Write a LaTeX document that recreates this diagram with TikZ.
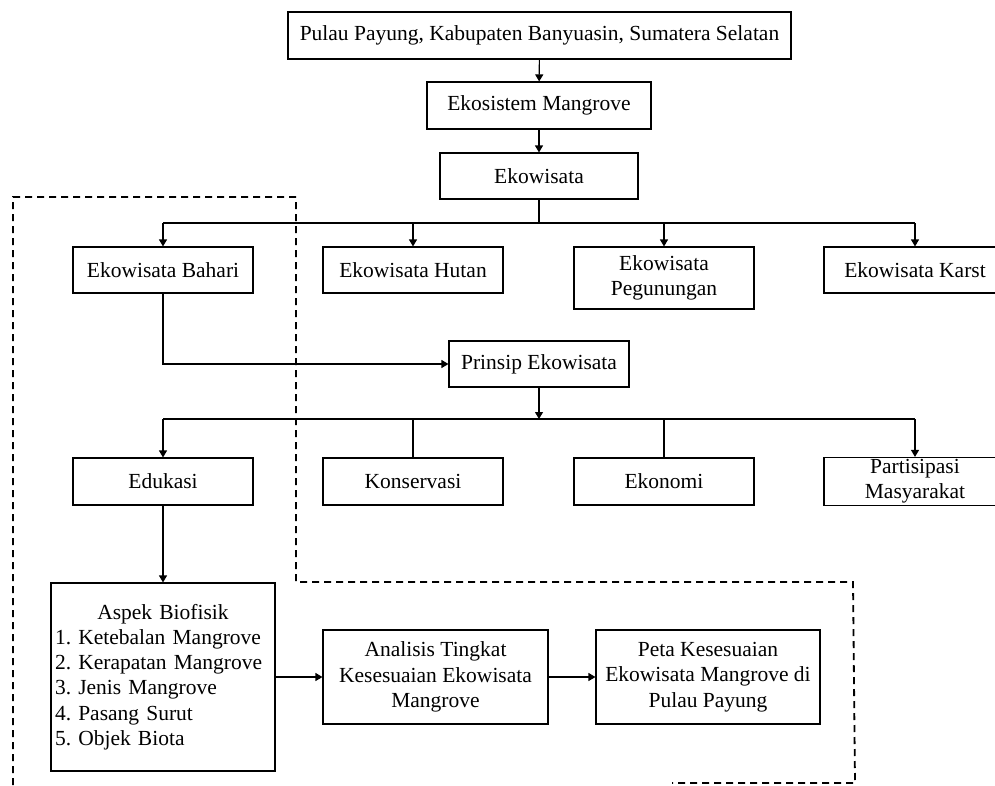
\documentclass[tikz,border=0pt]{standalone}
\usepackage{fontspec}
\setmainfont{Liberation Serif}
\usetikzlibrary{arrows.meta}
\begin{document}
\begin{tikzpicture}[x=1pt, y=-1pt, line width=1.1pt,
  kotak/.style={draw=black, minimum width=180pt, minimum height=46pt, inner sep=2pt, align=center, font=\fontsize{21.5}{25.2}\selectfont\frenchspacing},
  panah/.style={-{Triangle[length=7pt,width=8pt]}},
  batas/.style={dash pattern=on 7pt off 5pt, line width=1.8pt}]
\useasboundingbox (0,0) rectangle (995,785);
\draw[batas] (13,785) -- (13,197) -- (296,197) -- (296,582) -- (853,582) -- (855,783) -- (672,783);
\node [kotak, minimum width=503pt, minimum height=47pt] (lokasi) at (539.5,35.5) {Pulau Payung, Kabupaten Banyuasin, Sumatera Selatan};
\node [kotak, minimum width=224pt, minimum height=47pt] (mangrove) at (539,105.5) {Ekosistem Mangrove};
\node [kotak, minimum width=198pt] (ekowisata) at (539,176) {Ekowisata};
\node [kotak] (bahari) at (163,270) {Ekowisata Bahari};
\node [kotak] (hutan) at (413,270) {Ekowisata Hutan};
\node [kotak, minimum height=62pt] (gunung) at (664,278) {Ekowisata\\Pegunungan};
\node [kotak, minimum width=182pt] (karst) at (915,270) {Ekowisata Karst};
\node [kotak] (prinsip) at (539,364) {Prinsip Ekowisata};
\node [kotak, minimum height=47pt] (edukasi) at (163,481.5) {Edukasi};
\node [kotak, minimum height=47pt] (konservasi) at (413,481.5) {Konservasi};
\node [kotak, minimum height=47pt] (ekonomi) at (664,481.5) {Ekonomi};
\node [kotak, minimum width=182pt, minimum height=47pt] (partisipasi) at (915,481.5) {Partisipasi\\Masyarakat};
\node [kotak, minimum width=224pt, minimum height=188pt, text width=216pt, inner sep=4pt, align=left] (biofisik) at (163,677)
  {\makebox[216pt]{Aspek Biofisik}\\1. Ketebalan Mangrove\\2. Kerapatan Mangrove\\3. Jenis Mangrove\\4. Pasang Surut\\5. Objek Biota};
\node [kotak, minimum width=225pt, minimum height=94pt] (analisis) at (435.5,677) {Analisis Tingkat\\Kesesuaian Ekowisata\\Mangrove};
\node [kotak, minimum width=224pt, minimum height=94pt] (peta) at (708,677) {Peta Kesesuaian\\Ekowisata Mangrove di\\Pulau Payung};
\coordinate (cabang1) at (539,223);
\coordinate (cabang2) at (539,419);
\draw[panah] (lokasi) -- (mangrove);
\draw[panah] (mangrove) -- (ekowisata);
\draw (ekowisata) -- (cabang1);
\draw (bahari.north |- cabang1) -- (karst.north |- cabang1);
\foreach \n in {bahari, hutan, gunung, karst}
  \draw[panah] (\n.north |- cabang1) -- (\n.north);
\draw[panah] (bahari.south) |- (prinsip.west);
\draw[panah] (prinsip.south) -- (cabang2);
\draw (edukasi.north |- cabang2) -- (partisipasi.north |- cabang2);
\draw[panah] (edukasi.north |- cabang2) -- (edukasi.north);
\draw (konservasi.north |- cabang2) -- (konservasi.north);
\draw (ekonomi.north |- cabang2) -- (ekonomi.north);
\draw[panah] (partisipasi.north |- cabang2) -- (partisipasi.north);
\draw[panah] (edukasi) -- (biofisik);
\draw[panah] (biofisik) -- (analisis);
\draw[panah] (analisis) -- (peta);
\end{tikzpicture}
\end{document}
